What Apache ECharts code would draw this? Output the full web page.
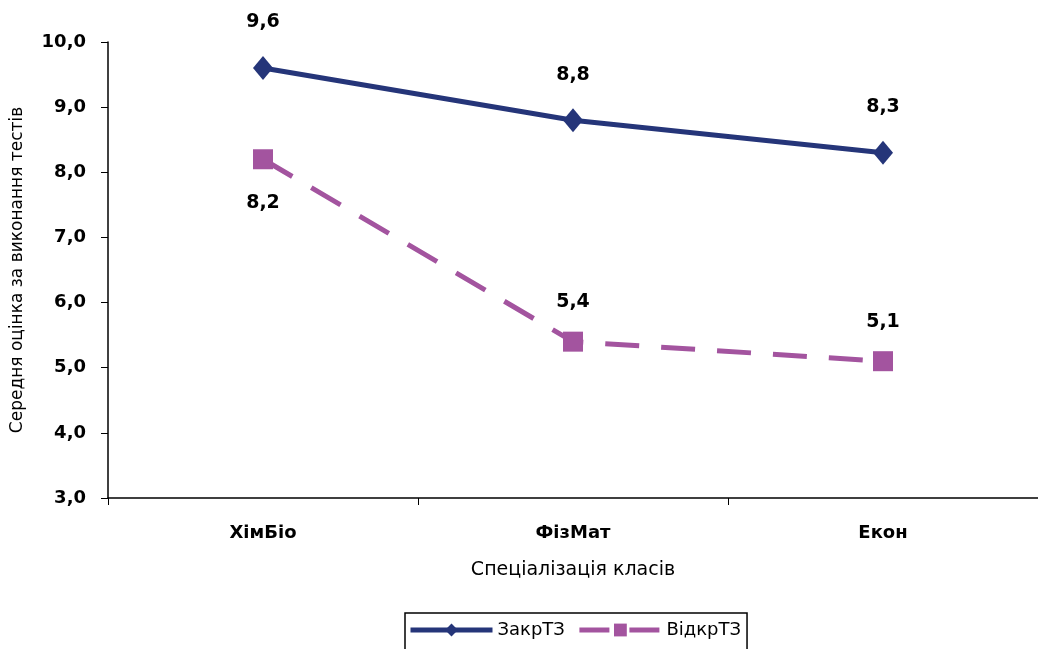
<!DOCTYPE html>
<html><head><meta charset="utf-8">
<script src="https://cdn.jsdelivr.net/npm/echarts@6/dist/echarts.min.js"></script>
<style>html,body{margin:0;padding:0;background:#fff}#c{width:1038px;height:649px}</style>
</head><body><div id="c"></div>
<script>
const categories = ['ХімБіо', 'ФізМат', 'Екон'];
const closedTZ = [9.6, 8.8, 8.3];
const openTZ = [8.2, 5.4, 5.1];
const seriesNames = ['ЗакрТЗ', 'ВідкрТЗ'];
const yMin = 3, yMax = 10, yStep = 1;

const FONT = 'DejaVu Sans, Liberation Sans, sans-serif';
const fmt = v => v.toFixed(1).replace('.', ',');
const chart = echarts.init(document.getElementById('c'));
chart.setOption({
  animation: false,
  textStyle: { fontFamily: FONT },
  grid: { left: 108, top: 42, right: 0, height: 456 },
  legend: {
    data: [
      { name: seriesNames[0], lineStyle: { width: 5 } },
      { name: seriesNames[1], lineStyle: { width: 5, type: [30, 20] } }
    ],
    left: 405, top: 613,
    borderColor: '#000', borderWidth: 1.5,
    padding: [8, 6, 20, 3],
    itemWidth: 82, itemHeight: 16, itemGap: 12,
    textStyle: { fontSize: 18, color: '#000', fontFamily: FONT }
  },
  xAxis: {
    type: 'category', data: categories, boundaryGap: true,
    name: 'Спеціалізація класів', nameLocation: 'middle', nameGap: 63,
    nameTextStyle: { fontSize: 19, color: '#000' },
    axisLine: { lineStyle: { color: '#000', width: 1.5 } },
    axisTick: { show: true, length: 7, lineStyle: { color: '#000' } },
    axisLabel: { fontSize: 18, fontWeight: 'bold', color: '#000', margin: 26 }
  },
  yAxis: {
    type: 'value', min: yMin, max: yMax, interval: yStep,
    name: 'Середня оцінка за виконання тестів', nameLocation: 'middle', nameGap: 82,
    nameRotate: 90,
    nameTextStyle: { fontSize: 17, color: '#000' },
    axisLine: { show: true, lineStyle: { color: '#000', width: 1.5 } },
    axisTick: { show: true, length: 7, lineStyle: { color: '#000' } },
    splitLine: { show: false },
    axisLabel: { fontSize: 18, fontWeight: 'bold', color: '#000', margin: 22, formatter: v => fmt(v) }
  },
  series: [
    {
      name: seriesNames[0], type: 'line', data: closedTZ,
      symbol: 'diamond', symbolSize: [20, 24],
      lineStyle: { color: '#253579', width: 5 },
      itemStyle: { color: '#253579' },
      label: { show: true, position: 'top', distance: 24, fontSize: 19, fontWeight: 'bold', color: '#000', formatter: p => fmt(p.value) }
    },
    {
      name: seriesNames[1], type: 'line',
      data: openTZ.map((v, i) => i === 0 ? { value: v, label: { position: 'bottom', distance: 24 } } : v),
      symbol: 'rect', symbolSize: 20,
      lineStyle: { color: '#A3549F', width: 5, type: [34, 22] },
      itemStyle: { color: '#A3549F' },
      label: { show: true, position: 'top', distance: 20, fontSize: 19, fontWeight: 'bold', color: '#000', formatter: p => fmt(p.value) }
    }
  ]
});
</script></body></html>
